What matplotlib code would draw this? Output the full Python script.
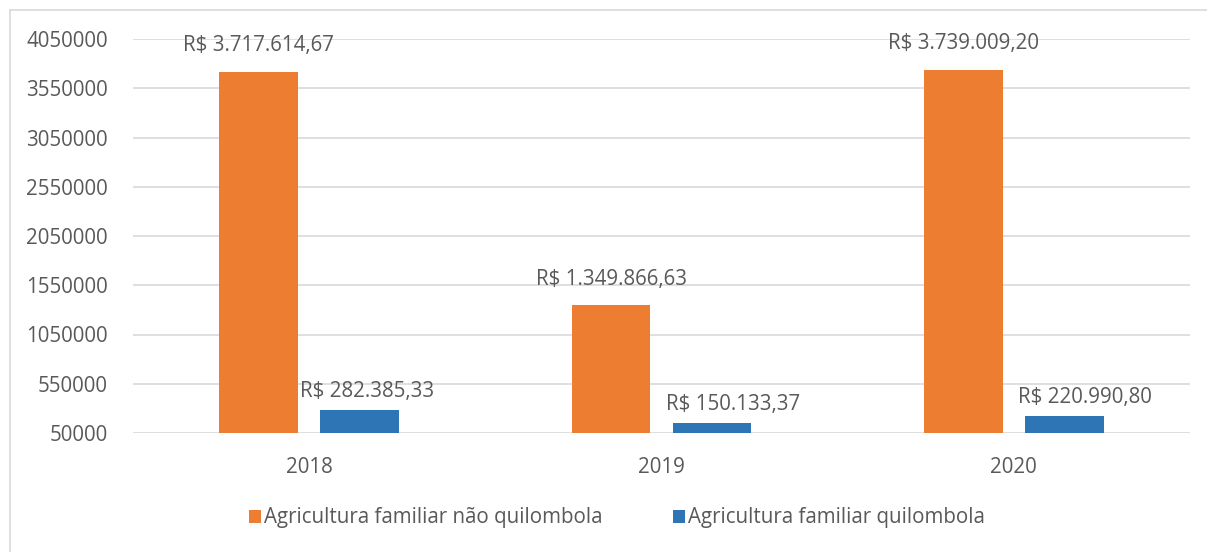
import numpy as np
import matplotlib.pyplot as plt
from matplotlib.lines import Line2D

years = ["2018", "2019", "2020"]
nao_quilombola = [3717614.67, 1349866.63, 3739009.20]
quilombola = [282385.33, 150133.37, 220990.80]
nao_labels = ["R$ 3.717.614,67", "R$ 1.349.866,63", "R$ 3.739.009,20"]
quil_labels = ["R$ 282.385,33", "R$ 150.133,37", "R$ 220.990,80"]
yticks = [50000, 550000, 1050000, 1550000, 2050000, 2550000, 3050000, 3550000, 4050000]

plt.rcParams['font.family'] = ['Open Sans', 'DejaVu Sans']
txt = "#595959"
orange = "#ED7D31"
blue = "#2E75B6"
fs = 14.8

W, H = 1207, 552
fig = plt.figure(figsize=(W / 100, H / 100), dpi=100)
# chart border (only top and left edges are inside the picture)
fig.lines.append(Line2D([10 / W, 1.0], [1 - 10 / H] * 2, transform=fig.transFigure,
                        color="#d9d9d9", linewidth=1.2))
fig.lines.append(Line2D([10 / W] * 2, [0, 1 - 10 / H], transform=fig.transFigure,
                        color="#d9d9d9", linewidth=1.2))
ax = fig.add_axes([133 / W, 1 - 433 / H, (1190 - 133) / W, (433 - 39) / H])

x = np.arange(len(years))
bw = 0.224
gap = 0.0625
off = (bw + gap) / 2
b1 = ax.bar(x - off, np.array(nao_quilombola) - 50000, bw, bottom=50000, color=orange,
            label="Agricultura familiar não quilombola", zorder=3)
b2 = ax.bar(x + off, np.array(quilombola) - 50000, bw, bottom=50000, color=blue,
            label="Agricultura familiar quilombola", zorder=3)

for i in range(3):
    ax.annotate(nao_labels[i], (x[i] - off, nao_quilombola[i]), xytext=(0, 11),
                textcoords="offset points", ha="center", va="bottom", fontsize=fs, color=txt)
    ax.annotate(quil_labels[i], (x[i] + off, quilombola[i]), xytext=([5, 15, 15][i], 6),
                textcoords="offset points", ha="center", va="bottom", fontsize=fs, color=txt)

ax.set_xlim(-0.5, 2.5)
ax.set_ylim(50000, 4050000)
ax.set_yticks(yticks)
ax.set_yticklabels([str(v) for v in yticks])
ax.set_xticks(x)
ax.set_xticklabels(years)
ax.yaxis.grid(True, color="#d9d9d9", linewidth=1.2, zorder=0)
ax.tick_params(length=0, labelsize=fs, colors=txt)
ax.tick_params(axis="y", pad=18)
ax.tick_params(axis="x", pad=17)
for s in ax.spines.values():
    s.set_visible(False)

fig.legend(handles=[b1, b2], loc="center", bbox_to_anchor=(617 / W, 1 - 518 / H), ncol=2,
           frameon=False, fontsize=fs, labelcolor=txt, handlelength=0.6, handleheight=0.6,
           handletextpad=0.15, columnspacing=3.4)

fig.savefig("out.png", dpi=100)
